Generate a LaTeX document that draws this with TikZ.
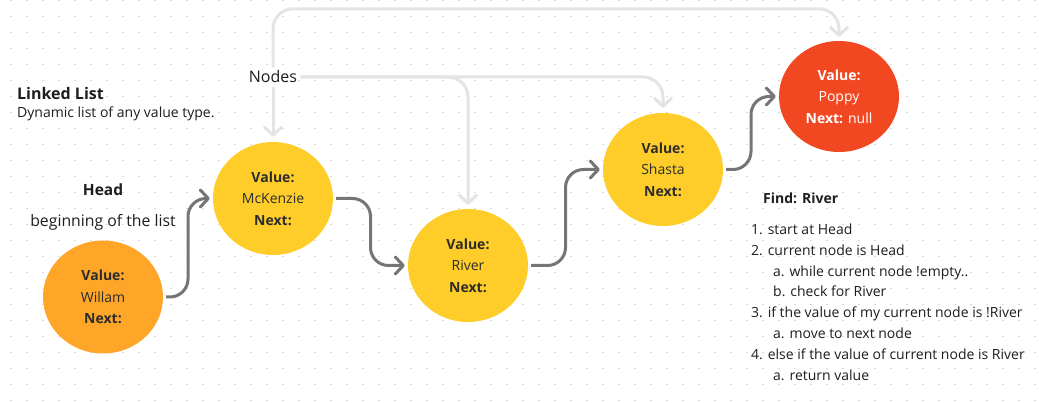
\documentclass[tikz,border=0pt]{standalone}
\usepackage{fontspec}
\setmainfont{Open Sans}
\usetikzlibrary{shapes.geometric,arrows.meta,calc}
\definecolor{txt}{HTML}{1E1E1E}
\definecolor{nodetxt}{HTML}{2C2C2C}
\definecolor{headorange}{HTML}{FFA629}
\definecolor{nodeyellow}{HTML}{FFCD29}
\definecolor{tailred}{HTML}{F24822}
\definecolor{linkgray}{HTML}{757575}
\definecolor{hintgray}{HTML}{E4E4E4}
\definecolor{griddot}{HTML}{DADADA}
\begin{document}
\begin{tikzpicture}[x=1pt,y=-1pt,
  listnode/.style={ellipse, minimum width=120pt, minimum height=113pt, inner sep=0pt,
    align=center, text=nodetxt, font=\fontsize{14}{21.5}\selectfont},
  link/.style={draw=linkgray, line width=3pt, rounded corners=18pt,
    -{Straight Barb[length=8pt,width=17pt,round]}},
  hint/.style={draw=hintgray, line width=3pt, rounded corners=20pt,
    -{Straight Barb[length=8pt,width=17pt,round]}},
  steptext/.style={inner sep=0pt, text=txt, font=\fontsize{14}{16}\selectfont},
  label/.style={text=txt}
]
\useasboundingbox (0,0) rectangle (1039,403);
\fill[white] (0,0) rectangle (1039,403);
% dot grid
\foreach \gx in {11,27,...,1039} {
  \foreach \gy in {0.7,16.7,...,403} {
    \fill[griddot] (\gx-0.75,\gy-0.75) rectangle ++(1.5,1.5);
  }
}
% list nodes
\node[listnode, fill=headorange] (willam) at (103,297) {\textbf{Value:}\\Willam\\\textbf{Next:}};
\node[listnode, fill=nodeyellow] (mck) at (273,198.5) {\textbf{Value:}\\McKenzie\\\textbf{Next:}};
\node[listnode, fill=nodeyellow] (river) at (468,265.5) {\textbf{Value:}\\River\\\textbf{Next:}};
\node[listnode, fill=nodeyellow] (shasta) at (663,169.5) {\textbf{Value:}\\Shasta\\\textbf{Next:}};
\node[listnode, fill=tailred, text=white, minimum height=111pt] (poppy) at (839,96.5) {\textbf{Value:}\\Poppy\\\textbf{Next:} null};
% labels
\node[label, font=\fontsize{16}{19}\selectfont] (nodes) at (273,77) {Nodes};
\node[label, anchor=west, inner sep=0pt, font=\fontsize{16}{18}\selectfont\bfseries] (title) at (17,94) {Linked List};
\node[label, anchor=west, inner sep=0pt, font=\fontsize{14}{16}\selectfont] (desc) at (17,114) {Dynamic list of any value type.};
\node[label, font=\fontsize{15.5}{18}\selectfont\bfseries] (head) at (103,190) {Head};
\node[label, font=\fontsize{15.8}{17}\selectfont] (headdesc) at (103,222) {beginning of the list};
\node[label, anchor=west, inner sep=0pt, font=\fontsize{14}{16}\selectfont\bfseries] (find) at (763,198) {Find: River};
\foreach \ind/\txt [count=\i] in {0/1. start at Head, 0/2. current node is Head, 1/a. while current node !empty.., 1/b. check for River, 0/3. if the value of my current node is !River, 1/a. move to next node, 0/4. else if the value of current node is River, 1/a. return value}
  \node[steptext, anchor=base west] (step\i) at ({751+22*\ind}, {234.5+20.8*(\i-1)}) {\txt};
% next links
\draw[link] ([xshift=3pt]willam.east) -| ($(willam.east)!0.5!(mck.west)$) |- ([xshift=-3pt]mck.west);
\draw[link] ([xshift=3pt]mck.east) -| ($(mck.east)!0.5!(river.west)$) |- ([xshift=-3pt]river.west);
\draw[link] ([xshift=3pt]river.east) -| ($(river.east)!0.5!(shasta.west)$) |- ([xshift=-3pt]shasta.west);
\draw[link] ([xshift=3pt]shasta.east) -| ($(shasta.east)!0.5!(poppy.west)$) |- ([xshift=-3pt]poppy.west);
% hint connectors from "Nodes"
\path (poppy.north) ++(0,-32) coordinate (topturn);
\draw[hint] (nodes.north) |- (topturn) -- ($(poppy.north)+(0,-4)$);
\draw[hint] (nodes.south) -- ($(mck.north)+(0,-5)$);
\draw[hint] (nodes.east) -| ($(river.north)+(0,-4)$);
\draw[hint] (nodes.east) -| ($(shasta.north)+(0,-5)$);
\end{tikzpicture}
\end{document}
